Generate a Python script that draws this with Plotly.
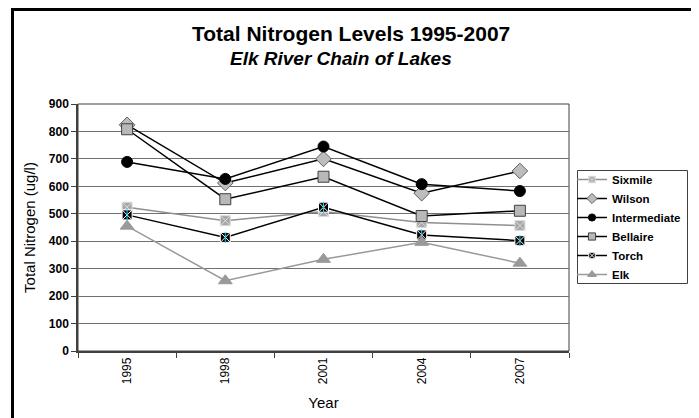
import plotly.graph_objects as go

# Categories and series values (ug/l)
years = ['1995', '1998', '2001', '2004', '2007']
sixmile = [524, 475, 508, 468, 457]
wilson = [824, 612, 700, 575, 656]
intermediate = [689, 627, 745, 608, 583]
bellaire = [808, 553, 635, 492, 511]
torch = [496, 414, 524, 423, 402]
elk = [455, 256, 334, 396, 320]

y_ticks = [0, 100, 200, 300, 400, 500, 600, 700, 800, 900]

font_family = 'Liberation Sans, Arial, sans-serif'

# series styles: name, values, line colour, symbol, size, fill, outline
series = [
    ('Sixmile', sixmile, '#8f8f8f', 'square-x', 10, '#a8a8a8', '#dcdcdc'),
    ('Wilson', wilson, '#000000', 'diamond', 12, '#bdbdbd', '#606060'),
    ('Intermediate', intermediate, '#000000', 'circle', 11, '#000000', '#000000'),
    ('Bellaire', bellaire, '#000000', 'square', 11, '#b8b8b8', '#404040'),
    ('Torch', torch, '#000000', 'square-x', 10, '#000000', '#ffffff'),
    ('Elk', elk, '#999999', 'triangle-up', 12, '#999999', '#999999'),
]

fig = go.Figure()

for name, vals, lc, sym, size, fill, outline in series:
    fig.add_trace(go.Scatter(x=years, y=vals, name=name, mode='lines+markers',
                             showlegend=False,
                             line=dict(color=lc, width=1.5),
                             marker=dict(symbol=sym, size=size, color=fill,
                                         line=dict(color=outline, width=1))))
    if name == 'Torch':
        # vertical arm of the asterisk marker
        fig.add_trace(go.Scatter(x=years, y=vals, mode='markers', showlegend=False,
                                 hoverinfo='skip',
                                 marker=dict(symbol='line-ns-open', size=8,
                                             line=dict(color='#ffffff', width=1))))

# legend entries with the small legend-style markers
for name, vals, lc, sym, size, fill, outline in series:
    fig.add_trace(go.Scatter(x=[None], y=[None], name=name, mode='lines+markers',
                             line=dict(color=lc, width=1.5),
                             marker=dict(symbol=sym, size=size * 0.65, color=fill,
                                         line=dict(color=outline, width=1))))

# page coordinates (the page has an 8px body margin): plot area 78..569 x 104..351
def fx(x):
    return (x - 78) / 491


def fy(y):
    return (351 - y) / 247


# outer chart frame
fig.add_shape(type='rect', xref='paper', yref='paper',
              x0=fx(12.5), x1=fx(693.5), y0=fy(440), y1=fy(9.5),
              line=dict(color='black', width=3), layer='below')
# legend frame
fig.add_shape(type='rect', xref='paper', yref='paper',
              x0=fx(577.5), x1=fx(687.5), y0=fy(283.5), y1=fy(170.5),
              line=dict(color='#404040', width=1), layer='below')

fig.add_annotation(text='<b>Total Nitrogen Levels 1995-2007</b>', xref='paper', yref='paper',
                   x=fx(351), y=fy(33), xanchor='center', yanchor='middle', showarrow=False,
                   font=dict(size=21, color='black', family=font_family))
fig.add_annotation(text='<b><i>Elk River Chain of Lakes</i></b>', xref='paper', yref='paper',
                   x=fx(341), y=fy(59), xanchor='center', yanchor='middle', showarrow=False,
                   font=dict(size=19, color='black', family=font_family))

fig.update_layout(
    width=699, height=418,
    margin=dict(l=70, r=138, t=96, b=75),
    paper_bgcolor='white', plot_bgcolor='white',
    font=dict(family=font_family, color='black'),
    showlegend=True,
    legend=dict(x=fx(572), y=fy(165), xanchor='left', yanchor='top',
                borderwidth=0, bgcolor='rgba(0,0,0,0)',
                font=dict(size=11.5, weight='bold', family=font_family),
                tracegroupgap=0, itemwidth=30),
    xaxis=dict(type='category', range=[-0.5, 4.5], tickangle=-90, tickson='boundaries',
               ticks='outside', ticklen=5, tickcolor='#404040', showline=True,
               linecolor='#404040', linewidth=1.5, mirror=False, showgrid=False,
               tickfont=dict(size=12),
               title=dict(text='Year', font=dict(size=15), standoff=14)),
    yaxis=dict(range=[0, 900], tickvals=y_ticks, ticks='outside', ticklen=5,
               tickcolor='#404040', showline=True, linecolor='#404040', linewidth=1.5,
               showgrid=True, gridcolor='#707070', gridwidth=1, zeroline=False,
               tickfont=dict(size=12, weight='bold'),
               title=dict(text='Total Nitrogen (ug/l)', font=dict(size=15), standoff=10)),
)

# top and right plot border
fig.add_shape(type='rect', xref='paper', yref='paper', x0=0, x1=1, y0=0, y1=1,
              line=dict(color='#404040', width=1), layer='below')

fig.write_html("out.html")
